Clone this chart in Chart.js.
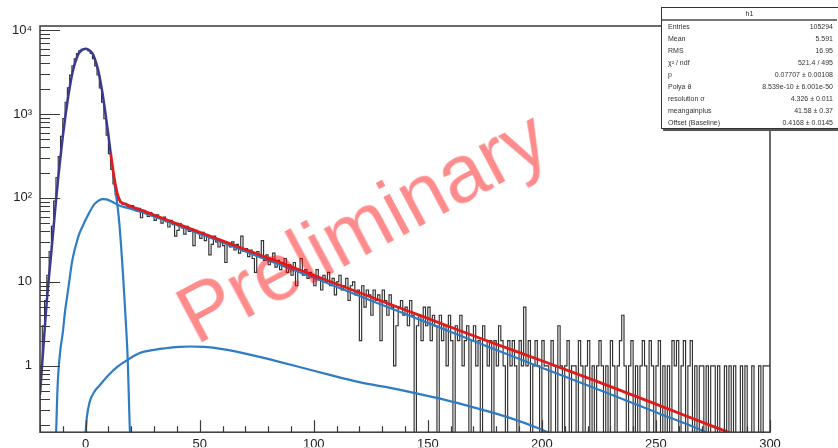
<!DOCTYPE html>
<html>
<head>
<meta charset="utf-8">
<script src="https://cdn.jsdelivr.net/npm/chart.js@4.4.1/dist/chart.umd.min.js"></script>
<style>
html,body{margin:0;padding:0;background:#fff;}
#wrap{position:relative;width:838px;height:448px;overflow:hidden;background:#fff;}
#c{position:absolute;left:0;top:0;}
#stats{position:absolute;left:661px;top:7px;width:190px;height:120px;border:1px solid #333;background:#fff;box-shadow:2px 2px 0 #555;font-family:'Liberation Sans',Arial,sans-serif;font-size:7px;color:#333;}
#stats .title{height:11px;line-height:11px;text-align:center;border-bottom:2px solid #777;width:175px;}
#stats .row{position:relative;width:171px;height:12px;line-height:12px;}
#stats .row .n{position:absolute;left:6px;}
#stats .row .v{position:absolute;right:0;}
#prelim{position:absolute;left:362px;top:226px;transform:translate(-50%,-50%) rotate(-28deg);font-family:'Liberation Sans',Arial,sans-serif;font-size:81px;line-height:1;color:rgba(255,0,0,0.45);white-space:nowrap;}
</style>
</head>
<body>
<div id="wrap">
<canvas id="c" width="838" height="448"></canvas>
<div id="stats"></div>
<div id="prelim">Preliminary</div>
</div>
<script>
// ---------- data ----------
const binStart = -20;          // low edge of first bin
const binWidth = 1;
const histCounts = [
  // -20 .. -1
  0, 1, 3, 6, 12, 23, 46, 92, 175, 310, 540, 880, 1380, 2050, 2900, 3750, 4550, 5250, 5650, 5880,
  // 0 .. 15
  5962, 5870, 5640, 5260, 4560, 3740, 2910, 2040, 1385, 876, 558, 337, 219, 147, 108, 94,
  // 16 .. 60
  88, 84, 86, 80, 76, 81, 73, 70, 75, 58, 71, 66, 60, 67, 61, 54, 63, 57, 50, 59,
  52, 45, 54, 48, 35, 41, 49, 44, 37, 46, 40, 43, 27, 41, 38, 33, 39, 31, 36, 21,
  28, 35, 30, 26, 31,
  // 61 .. 150
  27, 17, 29, 26, 30, 24, 28, 22, 35, 23, 25, 20, 24, 19, 13, 23, 20, 31, 18, 21,
  16, 19, 22, 15, 18, 14, 17, 19, 13, 16, 12, 17, 9, 14, 19, 12, 14, 11, 13, 12,
  9, 14, 11, 8, 12, 10, 13, 9, 11, 7, 10, 12, 8, 9, 11, 6, 9, 10, 7, 8,
  2, 9, 5, 8, 7, 4, 8, 6, 7, 2, 8, 6, 4, 7, 5, 1, 3, 5, 6, 4,
  5, 3, 6, 4, 0, 3, 4, 2, 5, 3,
  // 151 .. 299
  5, 2, 4, 3, 0, 4, 2, 3, 1, 4, 2, 0, 3, 2, 4, 1, 2, 3, 0, 2,
  3, 1, 2, 0, 3, 2, 1, 2, 0, 2, 1, 3, 2, 1, 0, 2, 1, 2, 1, 0,
  2, 1, 5, 1, 2, 0, 1, 2, 1, 0, 2, 1, 1, 0, 2, 1, 0, 3, 1, 0,
  1, 2, 0, 1, 1, 0, 2, 1, 0, 1, 2, 0, 1, 0, 1, 2, 1, 0, 1, 0,
  2, 1, 0, 1, 2, 4, 1, 0, 1, 2, 0, 1, 0, 1, 2, 1, 0, 2, 1, 0,
  1, 2, 0, 1, 0, 1, 0, 2, 1, 2, 0, 1, 2, 0, 1, 2, 0, 1, 0, 1,
  1, 0, 1, 0, 1, 1, 0, 1, 0, 0, 1, 0, 1, 0, 1, 0, 0, 1, 0, 1,
  0, 0, 1, 0, 0, 1, 0, 1, 1
];

// total fit (red)
const fitX = [11, 12, 13, 14, 15, 16, 18, 20, 25, 30, 40, 50, 60, 75, 100, 125, 150, 175, 200, 225, 250, 275, 300];
const fitY = [338, 215, 145, 110, 93, 87, 83, 79, 70.5, 62.6, 49.4, 39, 30.8, 21.6, 12, 6.6, 3.67, 2.03, 1.15, 0.64, 0.35, 0.19, 0.105];

// pedestal peak (dark blue)
const pedX = [-20, -19, -18, -17, -16, -15, -14, -13, -12, -11, -10, -9, -8, -7, -6, -5, -4, -3, -2, -1,
              0, 1, 2, 3, 4, 5, 6, 7, 8, 9, 10, 11];
const pedY = [0.45, 1.1, 2.6, 6, 12, 23, 46, 92, 175, 310, 540, 880, 1380, 2050, 2900, 3750, 4550, 5250, 5650, 5880,
              5960, 5880, 5650, 5250, 4550, 3750, 2900, 2050, 1380, 880, 560, 338];

// pedestal component tail (light blue)
const pedTailX = [12, 13, 13.5, 14.5, 15.5, 16.5, 17.5, 18.5, 19.3, 19.8];
const pedTailY = [200, 125, 100, 60, 28, 11, 3.8, 1.1, 0.2, 0.1];

// single-photon (Polya) component (light blue)
const polyaX = [-13.2, -12.9, -12.5, -12, -11, -10, -9, -8, -7, -6, -5, -4, -3, -2, -1, 0, 1, 2, 3, 4, 5, 6, 7.5, 9, 10.5, 12,
                14, 16, 20, 25, 30, 40, 50, 60, 75, 100, 125, 150, 175, 200, 225, 250, 272, 285];
const polyaY = [0.1, 0.17, 0.4, 0.8, 1.6, 2.5, 4.5, 7, 11, 17, 23, 29, 36, 42, 48, 55, 62, 70, 78, 85, 90, 94, 96.5, 96, 93, 89,
                83, 79, 74, 67, 60, 47.5, 37.3, 29.5, 20.4, 11.2, 6.0, 3.25, 1.75, 0.95, 0.52, 0.28, 0.162, 0.11];

// broad background component (light blue)
const broadX = [-0.5, 0, 0.5, 1.75, 4, 6, 10.5, 14, 17.8, 23.7, 28, 35, 41, 46, 52, 60, 70, 82, 95, 107, 120, 133, 145, 158, 170, 185, 199, 205, 210];
const broadY = [0.08, 0.16, 0.24, 0.37, 0.5, 0.58, 0.8, 0.98, 1.15, 1.42, 1.52, 1.62, 1.68, 1.7, 1.68, 1.58, 1.4, 1.17, 0.95, 0.78, 0.64, 0.55, 0.47, 0.39, 0.32, 0.245, 0.178, 0.15, 0.13];

// axes
const xMin = -20, xMax = 300;
const yMin = 0.162, yMax = 11160;
const xTickVals = [0, 50, 100, 150, 200, 250, 300];
const xMinorStep = 10;
const yTickVals = [1, 10, 100, 1000, 10000];
const yTickLabels = ['1', '10', '10\u00B2', '10\u00B3', '10\u2074'];
const yMinorMult = [2, 3, 4, 5, 6, 7, 8, 9];

// stats box
const statsTitle = 'h1';
const statsNames = ['Entries', 'Mean', 'RMS', '\u03C7\u00B2 / ndf', 'p', 'Polya \u03B8', 'resolution \u03C3', 'meangainplus', 'Offset (Baseline)'];
const statsValues = ['105294', '5.591', '16.95', '521.4 / 495', '0.07707 \u00B1 0.00108', '8.539e-10 \u00B1 6.001e-50', '4.326 \u00B1 0.011', '41.58 \u00B1 0.37', '0.4168 \u00B1 0.0145'];

// ---------- build ----------
const sb = document.getElementById('stats');
let html = '<div class="title">' + statsTitle + '</div>';
statsNames.forEach((n, i) => {
  html += '<div class="row"><span class="n">' + n + '</span><span class="v">' + statsValues[i] + '</span></div>';
});
sb.innerHTML = html;

const floorVal = yMin / 10; // empty bins drawn down past the frame bottom
const histPts = histCounts.map((c, i) => ({x: binStart + i * binWidth, y: c > 0 ? c : floorVal}));
histPts.push({x: binStart + histCounts.length * binWidth, y: histCounts[histCounts.length - 1] > 0 ? histCounts[histCounts.length - 1] : floorVal});

const zip = (xs, ys) => xs.map((x, i) => ({x: x, y: ys[i]}));

const FONT = "'Liberation Sans', Arial, Helvetica, sans-serif";
const lightBlue = '#2e7cc4';

const framePlugin = {
  id: 'rootFrame',
  afterDatasetsDraw(chart) {
    const {ctx, chartArea: a, scales} = chart;
    const xs = scales.x, ys = scales.y;
    ctx.save();
    ctx.strokeStyle = '#3a3a3a';
    ctx.lineWidth = 1.5;
    ctx.strokeRect(a.left, a.top, a.right - a.left, a.bottom - a.top);
    ctx.lineWidth = 1.2;
    ctx.beginPath();
    for (let v = xMin; v <= xMax; v += xMinorStep) {
      const px = Math.round(xs.getPixelForValue(v)) + 0.5;
      const len = xTickVals.includes(v) ? 12 : 6;
      ctx.moveTo(px, a.bottom);
      ctx.lineTo(px, a.bottom - len);
    }
    yTickVals.forEach((d, k) => {
      const py = Math.round(ys.getPixelForValue(d)) + 0.5;
      ctx.moveTo(a.left, py); ctx.lineTo(a.left + 20, py);
      yMinorMult.forEach(m => {
        const v = (d / 10) * m;
        if (v < yMin || v > yMax) return;
        const q = Math.round(ys.getPixelForValue(v)) + 0.5;
        ctx.moveTo(a.left, q); ctx.lineTo(a.left + 10, q);
      });
    });
    ctx.stroke();
    ctx.restore();
  }
};

const curve = (data, color, width, order) => ({
  data: data, borderColor: color, borderWidth: width, pointRadius: 0,
  cubicInterpolationMode: 'monotone', tension: 0.4, fill: false, order: order
});

new Chart(document.getElementById('c'), {
  type: 'line',
  data: {
    datasets: [
      {data: histPts, borderColor: '#303030', borderWidth: 1.15, stepped: 'after', pointRadius: 0, fill: false, order: 10},
      curve(zip(broadX, broadY), lightBlue, 2.2, 5),
      curve(zip(polyaX, polyaY), lightBlue, 2.2, 5),
      curve(zip(pedTailX, pedTailY), lightBlue, 2.2, 5),
      curve(zip(pedX, pedY), '#3a3a8e', 2.5, 3),
      curve(zip(fitX, fitY), '#e01b1b', 2.8, 1)
    ]
  },
  options: {
    responsive: false,
    animation: false,
    devicePixelRatio: 1,
    layout: {padding: {top: 26, right: 68, left: 0, bottom: 0}},
    plugins: {legend: {display: false}, tooltip: {enabled: false}},
    scales: {
      x: {
        type: 'linear', min: xMin, max: xMax,
        grid: {display: false, drawTicks: false}, border: {display: false},
        ticks: {font: {family: FONT, size: 13}, color: '#222', padding: 4, maxRotation: 0, autoSkip: false,
                callback: v => String(v)},
        afterBuildTicks: s => { s.ticks = xTickVals.map(v => ({value: v})); },
        afterFit: s => { s.height = 15; }
      },
      y: {
        type: 'logarithmic', min: yMin, max: yMax,
        grid: {display: false, drawTicks: false}, border: {display: false},
        ticks: {font: {family: FONT, size: 13}, color: '#222', padding: 8, autoSkip: false,
                callback: v => { const i = yTickVals.indexOf(v); return i >= 0 ? yTickLabels[i] : ''; }},
        afterBuildTicks: s => { s.ticks = yTickVals.map(v => ({value: v})); },
        afterFit: s => { s.width = 40; }
      }
    }
  },
  plugins: [framePlugin]
});
</script>
</body>
</html>
